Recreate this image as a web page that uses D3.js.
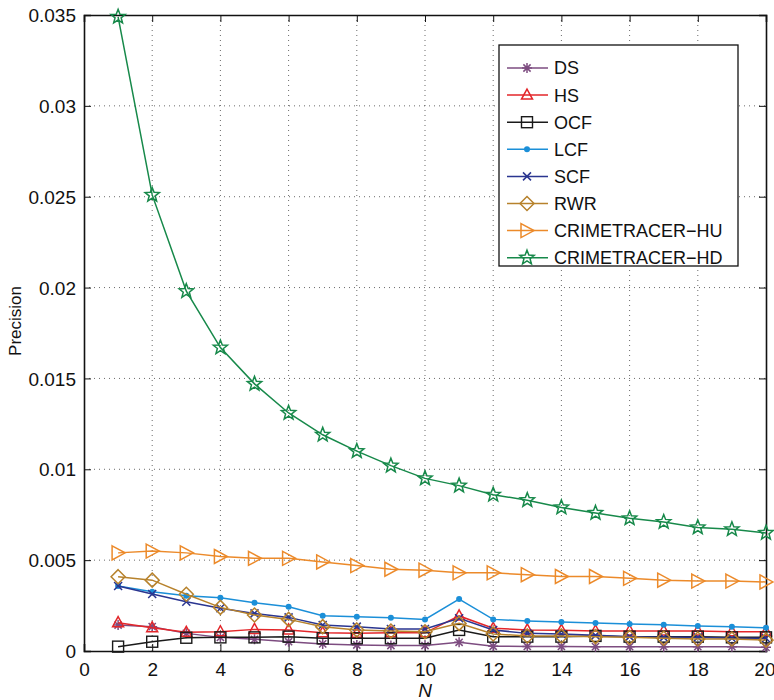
<!DOCTYPE html>
<html>
<head>
<meta charset="utf-8">
<script src="https://cdn.jsdelivr.net/npm/d3@7"></script>
<style>
  body { margin: 0; background: #fff; }
  text { font-family: "Liberation Sans", Arial, sans-serif; }
</style>
</head>
<body>
<div id="chart"></div>
<script>
var svgWidth = 774;
var svgHeight = 700;

var margin = { top: 15, right: 8, bottom: 49, left: 84 };
var width = svgWidth - margin.left - margin.right;
var height = svgHeight - margin.top - margin.bottom;

// data
var N = d3.range(1, 21);
var xTicks = [0, 2, 4, 6, 8, 10, 12, 14, 16, 18, 20];
var yTicks = [0, 0.005, 0.01, 0.015, 0.02, 0.025, 0.03, 0.035];

var DS  = [0.00143, 0.00134, 0.00097, 0.00075, 0.00064, 0.00051, 0.00039, 0.00033, 0.0003, 0.0003,
           0.00048, 0.00026, 0.00025, 0.00025, 0.00024, 0.00024, 0.00024, 0.00024, 0.00024, 0.0002];
var HS  = [0.00156, 0.00128, 0.00103, 0.00106, 0.00119, 0.00116, 0.00101, 0.00097, 0.00101, 0.001,
           0.00193, 0.00125, 0.00116, 0.00114, 0.0011, 0.0011, 0.0011, 0.0011, 0.00106, 0.00106];
var OCF = [0.00024, 0.00051, 0.00073, 0.00075, 0.00075, 0.00079, 0.0007, 0.0007, 0.0007, 0.0007,
           0.00116, 0.00079, 0.00079, 0.00079, 0.00083, 0.00079, 0.00079, 0.00079, 0.00075, 0.00075];
var LCF = [0.00358, 0.00326, 0.00304, 0.00293, 0.00266, 0.00244, 0.00194, 0.00189, 0.00183, 0.00174,
           0.00286, 0.00174, 0.00165, 0.0016, 0.00154, 0.00149, 0.00145, 0.00138, 0.00134, 0.00128];
var SCF = [0.00358, 0.00314, 0.00271, 0.00235, 0.00207, 0.00185, 0.00143, 0.00134, 0.00121, 0.00121,
           0.0018, 0.00116, 0.00097, 0.00094, 0.00086, 0.00079, 0.00075, 0.00075, 0.0007, 0.0007];
var RWR = [0.00409, 0.0039, 0.00312, 0.0024, 0.00198, 0.00174, 0.00134, 0.00116, 0.0011, 0.00106,
           0.00152, 0.00094, 0.00083, 0.00083, 0.00079, 0.00075, 0.0007, 0.00066, 0.00066, 0.0006];
var HU  = [0.0054, 0.0055, 0.0054, 0.0052, 0.0051, 0.0051, 0.0049, 0.0047, 0.0045, 0.00445,
           0.0043, 0.0043, 0.0042, 0.0041, 0.0041, 0.004, 0.0039, 0.00385, 0.00385, 0.0038];
var HD  = [0.0349, 0.0251, 0.0198, 0.0167, 0.0147, 0.0131, 0.0119, 0.011, 0.0102, 0.0095,
           0.0091, 0.0086, 0.0083, 0.0079, 0.0076, 0.0073, 0.0071, 0.0068, 0.0067, 0.0065];

var series = [
  { name: "DS", values: DS, color: "#7d4c80", marker: "asterisk" },
  { name: "HS", values: HS, color: "#e3262a", marker: "triangle" },
  { name: "OCF", values: OCF, color: "#1a1a1a", marker: "square" },
  { name: "LCF", values: LCF, color: "#1b8fd8", marker: "dot" },
  { name: "SCF", values: SCF, color: "#2a3590", marker: "cross" },
  { name: "RWR", values: RWR, color: "#b7822c", marker: "diamond" },
  { name: "CRIMETRACER\u2212HU", values: HU, color: "#ec8a2a", marker: "triright" },
  { name: "CRIMETRACER\u2212HD", values: HD, color: "#17894a", marker: "star" }
];

var svg = d3.select("#chart")
  .append("svg")
  .attr("width", svgWidth)
  .attr("height", svgHeight);

var chartGroup = svg.append("g")
  .attr("transform", `translate(${margin.left}, ${margin.top})`);

var xScale = d3.scaleLinear().domain([0, 20]).range([0, width]);
var yScale = d3.scaleLinear().domain([0, 0.035]).range([height, 0]);

// grid
chartGroup.selectAll(".gx")
  .data(xTicks.slice(1, -1))
  .enter().append("line")
  .attr("x1", d => xScale(d)).attr("x2", d => xScale(d))
  .attr("y1", 0).attr("y2", height)
  .attr("stroke", "#444").attr("stroke-width", 0.8)
  .attr("stroke-dasharray", "1,4");

chartGroup.selectAll(".gy")
  .data(yTicks.slice(1, -1))
  .enter().append("line")
  .attr("x1", 0).attr("x2", width)
  .attr("y1", d => yScale(d)).attr("y2", d => yScale(d))
  .attr("stroke", "#444").attr("stroke-width", 0.8)
  .attr("stroke-dasharray", "1,4");

// axes (inward ticks, matlab style)
var fmtY = function(d) { return d === 0 ? "0" : String(+d.toFixed(3)); };

var bottomAxis = d3.axisBottom(xScale).tickValues(xTicks).tickSize(-7).tickPadding(12);
var leftAxis = d3.axisLeft(yScale).tickValues(yTicks).tickSize(-7).tickPadding(8).tickFormat(fmtY);
var topAxis = d3.axisTop(xScale).tickValues(xTicks).tickSize(-7).tickFormat("");
var rightAxis = d3.axisRight(yScale).tickValues(yTicks).tickSize(-7).tickFormat("");

var gx = chartGroup.append("g").attr("transform", `translate(0, ${height})`).call(bottomAxis);
var gy = chartGroup.append("g").call(leftAxis);
var gt = chartGroup.append("g").attr("transform", "translate(0, 0)").call(topAxis);
var gr = chartGroup.append("g").attr("transform", `translate(${width}, 0)`).call(rightAxis);

[gx, gy, gt, gr].forEach(function(g) {
  g.select(".domain").attr("stroke", "#111").attr("stroke-width", 1.6);
  g.selectAll(".tick line").attr("stroke", "#111").attr("stroke-width", 1);
  g.selectAll("text").attr("fill", "#111").style("font-size", "19px")
    .style("font-family", "'Liberation Sans', Arial, sans-serif");
});
gy.selectAll("text").attr("dy", "0.35em");
// keep the last x label inside the window
gx.selectAll(".tick text").filter(d => d === 20).attr("text-anchor", "end").attr("dx", "9");

// markers
function drawMarker(g, type, color) {
  if (type === "asterisk") {
    g.append("path").attr("d", "M-5,0H5M0,-5V5M-3.6,-3.6L3.6,3.6M-3.6,3.6L3.6,-3.6")
      .attr("stroke", color).attr("stroke-width", 1.5).attr("fill", "none");
  } else if (type === "triangle") {
    g.append("path").attr("d", "M0,-6L5.5,4L-5.5,4Z")
      .attr("stroke", color).attr("stroke-width", 1.5).attr("fill", "none");
  } else if (type === "square") {
    g.append("rect").attr("x", -5.5).attr("y", -5.5).attr("width", 11).attr("height", 11)
      .attr("stroke", color).attr("stroke-width", 1.4).attr("fill", "none");
  } else if (type === "dot") {
    g.append("circle").attr("r", 3).attr("fill", color);
  } else if (type === "cross") {
    g.append("path").attr("d", "M-4,-4L4,4M-4,4L4,-4")
      .attr("stroke", color).attr("stroke-width", 1.5).attr("fill", "none");
  } else if (type === "diamond") {
    g.append("path").attr("d", "M0,-7L7,0L0,7L-7,0Z")
      .attr("stroke", color).attr("stroke-width", 1.5).attr("fill", "none");
  } else if (type === "triright") {
    g.append("path").attr("d", "M-6,-7L7,0L-6,7Z")
      .attr("stroke", color).attr("stroke-width", 1.5).attr("fill", "none");
  } else if (type === "star") {
    var pts = d3.range(10).map(function(i) {
      var r = i % 2 === 0 ? 7.5 : 3.2;
      var a = -Math.PI / 2 + i * Math.PI / 5;
      return [r * Math.cos(a), r * Math.sin(a)];
    });
    g.append("path").attr("d", "M" + pts.join("L") + "Z")
      .attr("stroke", color).attr("stroke-width", 1.5).attr("fill", "none");
  }
}

var line = d3.line()
  .x((d, i) => xScale(N[i]))
  .y(d => yScale(d));

series.forEach(function(s) {
  chartGroup.append("path")
    .datum(s.values)
    .attr("d", line)
    .attr("fill", "none")
    .attr("stroke", s.color)
    .attr("stroke-width", 1.5);

  chartGroup.selectAll(null)
    .data(s.values)
    .enter()
    .append("g")
    .attr("transform", (d, i) => `translate(${xScale(N[i])}, ${yScale(d)})`)
    .each(function() { drawMarker(d3.select(this), s.marker, s.color); });
});

// legend
var legend = chartGroup.append("g").attr("transform", "translate(415, 30)");
legend.append("rect")
  .attr("width", 239).attr("height", 221)
  .attr("fill", "#fff").attr("stroke", "#111").attr("stroke-width", 1.3);

series.forEach(function(s, i) {
  var ly = 23 + i * 27.1;
  legend.append("line")
    .attr("x1", 8).attr("x2", 49).attr("y1", ly).attr("y2", ly)
    .attr("stroke", s.color).attr("stroke-width", 1.5);
  var mg = legend.append("g").attr("transform", `translate(28, ${ly})`);
  drawMarker(mg, s.marker, s.color);
  legend.append("text")
    .attr("x", 55).attr("y", ly).attr("dy", "0.36em")
    .style("font-size", "18px").attr("fill", "#111")
    .text(s.name);
});

// axis labels
chartGroup.append("text")
  .attr("transform", "rotate(-90)")
  .attr("x", 0 - (height / 2) + 12)
  .attr("y", -63)
  .style("text-anchor", "middle")
  .style("font-size", "17px")
  .attr("fill", "#111")
  .text("Precision");

chartGroup.append("text")
  .attr("transform", `translate(${width / 2}, ${height + 46})`)
  .style("text-anchor", "middle")
  .style("font-size", "19px")
  .style("font-style", "italic")
  .attr("fill", "#111")
  .text("N");
</script>
</body>
</html>
